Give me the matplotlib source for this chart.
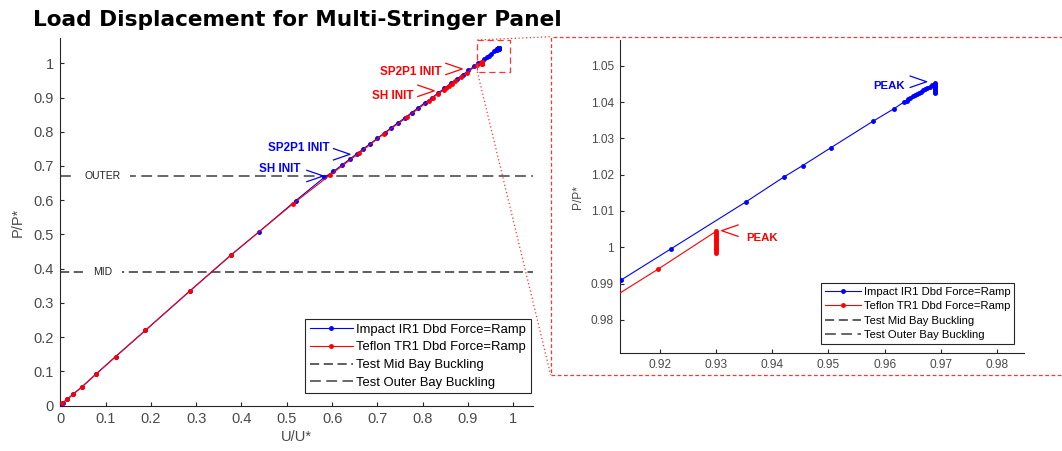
import numpy as np
import matplotlib
matplotlib.use("Agg")
import matplotlib.pyplot as plt
import matplotlib.transforms as mtransforms
from matplotlib.lines import Line2D

plt.rcParams['font.family'] = ['Liberation Sans', 'DejaVu Sans']

# --- data ---
blue_u = [0.0, 0.005, 0.015, 0.028, 0.048, 0.078, 0.122, 0.188, 0.287, 0.377,
          0.438, 0.520, 0.583, 0.603, 0.622, 0.640, 0.655, 0.668, 0.683, 0.700,
          0.716, 0.731, 0.745, 0.760, 0.776, 0.790, 0.805, 0.820, 0.834, 0.848,
          0.862, 0.876, 0.889, 0.901, 0.913, 0.922, 0.9354, 0.942, 0.9454, 0.9504,
          0.9579, 0.9617, 0.9635, 0.9639, 0.9642, 0.9646, 0.9650, 0.9654, 0.9657,
          0.9661, 0.9665, 0.9668, 0.9672, 0.9676, 0.9681, 0.9685,
          0.9690, 0.9690, 0.9690, 0.9690, 0.9690, 0.9690, 0.9690, 0.9690]
blue_p = [0.0, 0.008, 0.018, 0.033, 0.055, 0.091, 0.143, 0.220, 0.336, 0.440,
          0.507, 0.599, 0.667, 0.684, 0.703, 0.721, 0.736, 0.749, 0.764, 0.781,
          0.797, 0.812, 0.826, 0.840, 0.856, 0.870, 0.885, 0.899, 0.913, 0.927,
          0.941, 0.954, 0.967, 0.979, 0.9909, 0.9996, 1.0126, 1.0193, 1.0225, 1.0274,
          1.0347, 1.0382, 1.0401, 1.0404, 1.0408, 1.0412, 1.0416, 1.0419, 1.0422,
          1.0426, 1.0429, 1.0432, 1.0435, 1.0438, 1.0441, 1.0446,
          1.0453, 1.0449, 1.0445, 1.0441, 1.0437, 1.0433, 1.0429, 1.0426]

red_u = [0.004, 0.015, 0.028, 0.048, 0.078, 0.122, 0.188, 0.287, 0.377, 0.513,
         0.595, 0.660, 0.714, 0.765, 0.814, 0.822, 0.834, 0.846, 0.852, 0.858,
         0.864, 0.871, 0.884, 0.897, 0.9197, 0.930, 0.930, 0.930, 0.930, 0.930,
         0.930, 0.930, 0.930, 0.930, 0.930, 0.930, 0.930, 0.930]
red_p = [0.007, 0.018, 0.033, 0.055, 0.091, 0.143, 0.220, 0.336, 0.440, 0.589,
         0.673, 0.738, 0.7936, 0.842, 0.891, 0.899, 0.911, 0.922, 0.928, 0.934,
         0.940, 0.947, 0.959, 0.972, 0.994, 1.0044, 1.0039, 1.0034, 1.0029, 1.0024,
         1.0019, 1.0014, 1.0009, 1.0004, 0.9999, 0.9994, 0.9989, 0.9984]

mid_level = 0.39
outer_level = 0.67

labels = ['Impact IR1 Dbd Force=Ramp', 'Teflon TR1 Dbd Force=Ramp',
          'Test Mid Bay Buckling', 'Test Outer Bay Buckling']

main_ticks = [0, 0.1, 0.2, 0.3, 0.4, 0.5, 0.6, 0.7, 0.8, 0.9, 1.0]
zoom_xticks = [0.92, 0.93, 0.94, 0.95, 0.96, 0.97, 0.98]
zoom_yticks = [0.98, 0.99, 1.0, 1.01, 1.02, 1.03, 1.04, 1.05]

# annotations: (text, u, p, colour, text offset in points)
main_notes = [('SP2P1 INIT', 0.8874, 0.9834, 'red', (-14.8, -2.4)),
              ('SH INIT', 0.8256, 0.9196, 'red', (-15.3, -3.6)),
              ('SP2P1 INIT', 0.6395, 0.7342, 'blue', (-14.4, 4.8)),
              ('SH INIT', 0.5806, 0.6708, 'blue', (-16.3, 5.0))]
zoom_notes = [('PEAK', 0.96748, 1.0456, 'blue', (-15.6, -2.9)),
              ('PEAK', 0.93098, 1.00458, 'red', (18.0, -5.0))]

W, H = 1062, 451
fig = plt.figure(figsize=(W / 100, H / 100), dpi=100)
ax = fig.add_axes([60.3 / W, 1 - 405.6 / H, 473 / W, 367.3 / H])
ax2 = fig.add_axes([620 / W, 1 - 353.3 / H, 404 / W, 313.3 / H])

BLUE = '#0000ff'
RED = '#ff0000'
TXT = '#4a4a4a'
AX = '#262626'


def fmt(v):
    return '{:g}'.format(round(v, 3))


def chevron(a, x, y, color, pointing_right=True):
    tr = fig.dpi_scale_trans + mtransforms.ScaledTranslation(x, y, a.transData)
    dx = 0.165 if pointing_right else -0.165
    dy = 0.057
    a.add_line(Line2D([-dx, 0, -dx], [dy, 0, -dy], transform=tr, color=color,
                      lw=0.9, clip_on=False))


def draw_panel(a):
    hm = a.axhline(mid_level, color='#333333', lw=1.1, dashes=(6, 3), zorder=1)
    ho = a.axhline(outer_level, color='#5c5c5c', lw=1.3, dashes=(6, 3), zorder=1)
    hb, = a.plot(blue_u, blue_p, color=BLUE, lw=0.8, marker='.', ms=5, zorder=3)
    hr, = a.plot(red_u, red_p, color=RED, lw=0.8, marker='.', ms=5, zorder=4)
    for s in ['top', 'right']:
        a.spines[s].set_visible(False)
    for s in ['left', 'bottom']:
        a.spines[s].set_color(AX)
        a.spines[s].set_linewidth(0.8)
    return [hb, hr, hm, ho]


# main plot
handles = draw_panel(ax)
ax.set_xticks(main_ticks)
ax.set_yticks(main_ticks)
ax.set_xticklabels([fmt(t) for t in main_ticks])
ax.set_yticklabels([fmt(t) for t in main_ticks])
ax.tick_params(direction='in', length=2.9, width=0.8, color=AX, labelcolor=TXT,
               labelsize=10.5, pad=4.7)
ax.set_xlim(0, 1.0442)
ax.set_ylim(0, 1.073)
ax.set_xlabel('U/U*', fontsize=10.5, color=TXT, labelpad=3)
ax.set_ylabel('P/P*', fontsize=10.5, color=TXT, labelpad=6)

ax.text(0.094, outer_level, 'OUTER', fontsize=7.5, ha='center', va='center', color='#222222',
        bbox=dict(boxstyle='square,pad=0.9', fc='white', ec='none'), zorder=2)
ax.text(0.094, mid_level, 'MID', fontsize=7.5, ha='center', va='center', color='#222222',
        bbox=dict(boxstyle='square,pad=0.9', fc='white', ec='none'), zorder=2)

for txt, u, p, c, off in main_notes:
    ax.annotate(txt, xy=(u, p), xytext=off, textcoords='offset points', ha='right',
                va='center', fontsize=8.4, fontweight='bold', color=c)
    chevron(ax, u, p, c, True)

leg = ax.legend(handles, labels, loc='lower right', bbox_to_anchor=(0.9945, 0.0335),
                fontsize=9.4, handlelength=3.3, handletextpad=0.25, labelspacing=0.42,
                borderpad=0.35, borderaxespad=0, fancybox=False, framealpha=1,
                edgecolor=AX, numpoints=1)
leg.get_frame().set_linewidth(0.8)

# zoomed panel
handles2 = draw_panel(ax2)
ax2.set_xticks(zoom_xticks)
ax2.set_yticks(zoom_yticks)
ax2.set_xticklabels([fmt(t) for t in zoom_xticks])
ax2.set_yticklabels([fmt(t) for t in zoom_yticks])
ax2.tick_params(direction='in', length=2.9, width=0.8, color=AX, labelcolor=TXT,
                labelsize=8.6, pad=4.3)
ax2.set_xlim(0.9129, 0.9848)
ax2.set_ylim(0.9708, 1.0571)
ax2.set_ylabel('P/P*', fontsize=8.6, color=TXT, labelpad=5)

for txt, u, p, c, off in zoom_notes:
    right = c == 'blue'
    ax2.annotate(txt, xy=(u, p), xytext=off, textcoords='offset points',
                 ha='right' if right else 'left', va='center', fontsize=8.2,
                 fontweight='bold', color=c)
    chevron(ax2, u, p, c, right)

leg2 = ax2.legend(handles2, labels, loc='lower right', bbox_to_anchor=(0.976, 0.0297),
                  fontsize=8.1, handlelength=3.2, handletextpad=0.25, labelspacing=0.4,
                  borderpad=0.35, borderaxespad=0, fancybox=False, framealpha=1,
                  edgecolor=AX, numpoints=1)
leg2.get_frame().set_linewidth(0.8)

# zoom box and connector lines (pixel positions of the frame)
ZC = '#ff3333'
box = [(477.3, 40), (510, 40), (510, 71.7), (477.3, 71.7), (477.3, 40)]
fig.add_artist(Line2D([p[0] / W for p in box], [1 - p[1] / H for p in box],
                      color=ZC, lw=0.9, dashes=(5, 3)))
frame = [(1075, 36.7), (550.7, 36.7), (550.7, 375), (1075, 375)]
fig.add_artist(Line2D([p[0] / W for p in frame], [1 - p[1] / H for p in frame],
                      color=ZC, lw=0.9, dashes=(3, 2)))
for a_pt, b_pt in [((477.3, 40), (550.7, 36.7)), ((477.3, 71.7), (550.7, 375))]:
    fig.add_artist(Line2D([a_pt[0] / W, b_pt[0] / W], [1 - a_pt[1] / H, 1 - b_pt[1] / H],
                          color=ZC, lw=0.9, dashes=(1, 2)))

fig.text(33 / W, 1 - 26 / H, 'Load Displacement for Multi-Stringer Panel', fontsize=15.6,
         fontweight='bold', family='DejaVu Sans', va='baseline', color='black')

fig.savefig('out.png', dpi=100, facecolor='white')
